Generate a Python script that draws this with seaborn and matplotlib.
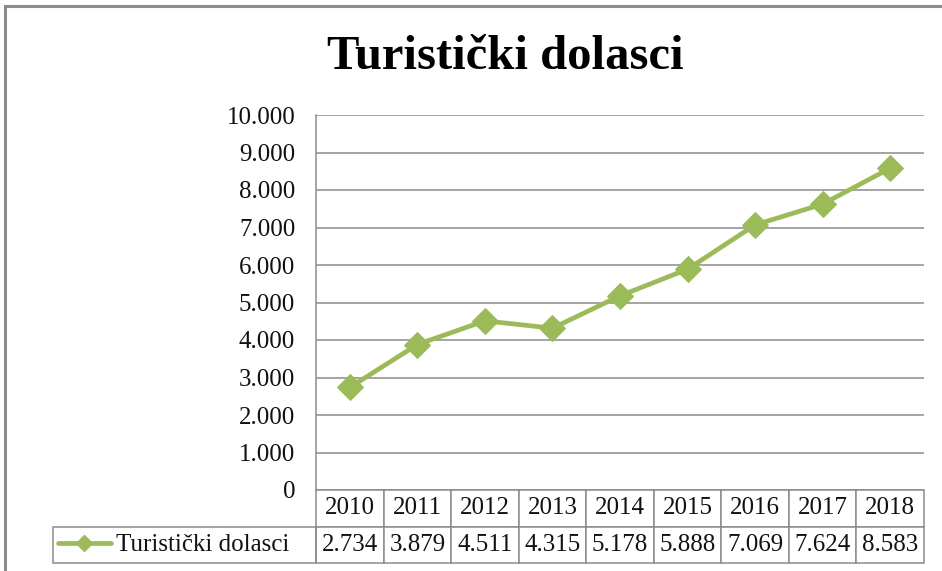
import matplotlib
matplotlib.use("Agg")
import matplotlib.pyplot as plt
import seaborn as sns
import pandas as pd
from matplotlib.lines import Line2D
from matplotlib.patches import Rectangle

years = ["2010", "2011", "2012", "2013", "2014", "2015", "2016", "2017", "2018"]
values = [2734, 3879, 4511, 4315, 5178, 5888, 7069, 7624, 8583]
series_name = "Turistički dolasci"
title = "Turistički dolasci"
yticks = [0, 1000, 2000, 3000, 4000, 5000, 6000, 7000, 8000, 9000, 10000]

def fmt(v):
    return "0" if v == 0 else f"{v:,}".replace(",", ".")

sns.set_theme(style="white")
plt.rcParams["font.family"] = ["Liberation Serif", "DejaVu Serif"]

W, H = 942, 571
fig = plt.figure(figsize=(W / 100, H / 100), dpi=100)

GRID = "#8c8c8c"
TXT = "#111111"
FS = 18

# outer chart border (extends past right/bottom edges)
fig.add_artist(Rectangle((5 / W, -0.05), 1.2, (H - 6) / H + 0.05, transform=fig.transFigure,
                         fill=False, edgecolor=GRID, linewidth=2.2))

left, right, top, bottom = 316, 924, 115, 490
ax = fig.add_axes([left / W, (H - bottom) / H, (right - left) / W, (bottom - top) / H])

df = pd.DataFrame({"year": years, "value": values})
df["x"] = range(len(years))
color = "#9BBB59"
sns.lineplot(data=df, x="x", y="value", ax=ax, color=color, linewidth=3.4,
             marker="D", markersize=13, markeredgecolor=color, markerfacecolor=color)

ax.set_xlim(-0.5, len(years) - 0.5)
ax.set_ylim(0, 10000)
ax.set_yticks(yticks)
ax.set_yticklabels([fmt(v) for v in yticks], fontsize=FS, color=TXT)
ax.set_xticks([])
ax.set_xlabel("")
ax.set_ylabel("")
ax.tick_params(axis="y", length=0, pad=15)
ax.grid(axis="y", color=GRID, linewidth=1.1)
for s in ["top", "right", "bottom"]:
    ax.spines[s].set_visible(False)
ax.spines["left"].set_color(GRID)
ax.spines["left"].set_linewidth(1.1)

fig.text(505 / W, (H - 57) / H, title, ha="center", va="center", fontsize=35,
         fontweight="bold", color="black")

# data table (drawn in axes-fraction coordinates below the plot area)
ah = bottom - top
aw = right - left
row1 = (527 - 490) / ah
row2 = (563 - 527) / ah
lab_x = (53 - left) / aw
tbl = ax.table(cellText=[years, [fmt(v) for v in values]], cellLoc="center",
               bbox=[0, -(row1 + row2), 1, row1 + row2])
tbl.auto_set_font_size(False)
tbl.set_fontsize(FS)
ncol = len(years)
for (r, c), cell in tbl.get_celld().items():
    cell.set_edgecolor(GRID)
    cell.set_linewidth(1.1)
    cell.set_height(row1 if r == 0 else row2)
    cell.set_width(1.0 / ncol)
    cell.get_text().set_color(TXT)

ax.add_patch(Rectangle((lab_x, -(row1 + row2)), -lab_x, row2, transform=ax.transAxes,
                       fill=False, edgecolor=GRID, linewidth=1.1, clip_on=False))

# legend key inside the label cell
handle = Line2D([], [], color=color, linewidth=3.4, marker="D", markersize=8)
leg = ax.legend([handle], [series_name], loc="center left",
                bbox_to_anchor=(lab_x + 5 / aw, -(row1 + row2 / 2)), frameon=False,
                fontsize=FS, handlelength=2.1, handletextpad=0.2, borderaxespad=0,
                borderpad=0)
for t in leg.get_texts():
    t.set_color(TXT)

fig.savefig("out.png", dpi=100)
